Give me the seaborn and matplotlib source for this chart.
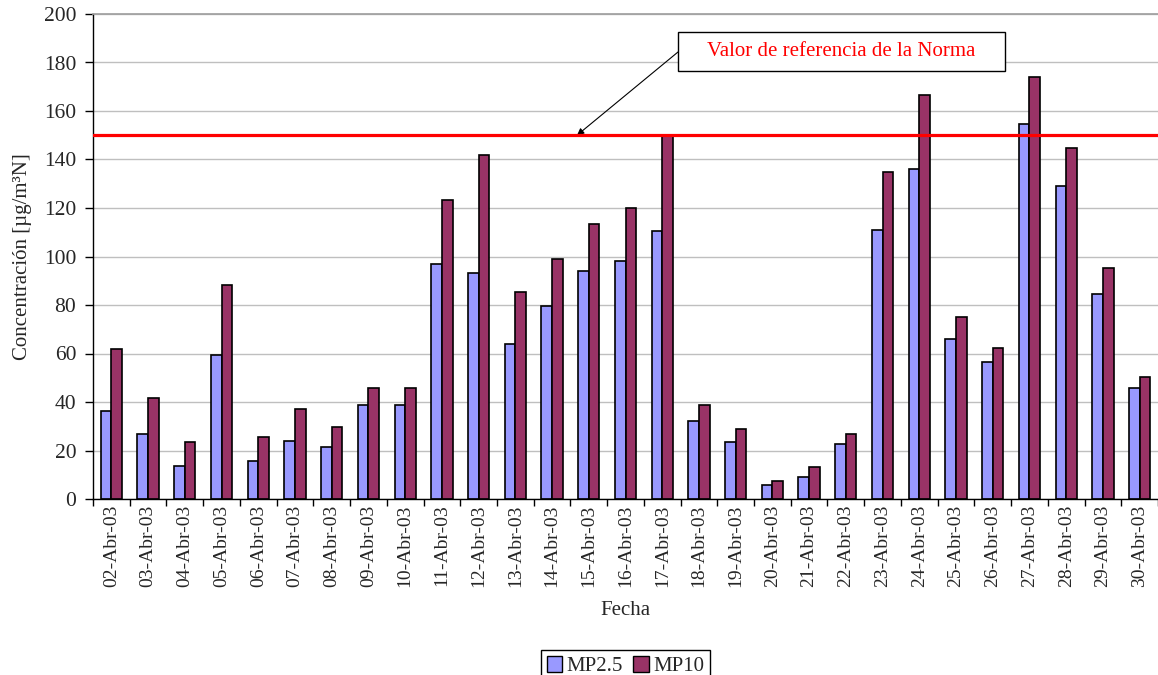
import numpy as np
import pandas as pd
import matplotlib.pyplot as plt
import seaborn as sns
from matplotlib.patches import Rectangle, Patch

# datos
fechas = ["02-Abr-03", "03-Abr-03", "04-Abr-03", "05-Abr-03", "06-Abr-03", "07-Abr-03",
          "08-Abr-03", "09-Abr-03", "10-Abr-03", "11-Abr-03", "12-Abr-03", "13-Abr-03",
          "14-Abr-03", "15-Abr-03", "16-Abr-03", "17-Abr-03", "18-Abr-03", "19-Abr-03",
          "20-Abr-03", "21-Abr-03", "22-Abr-03", "23-Abr-03", "24-Abr-03", "25-Abr-03",
          "26-Abr-03", "27-Abr-03", "28-Abr-03", "29-Abr-03", "30-Abr-03"]
mp25 = [36.2, 26.8, 13.7, 59.2, 15.8, 24.0, 21.3, 38.7, 38.6, 97.0, 93.3, 64.0, 79.7, 94.2,
        98.3, 110.5, 32.1, 23.5, 5.8, 9.1, 22.6, 111.0, 136.2, 66.0, 56.6, 154.6, 129.0,
        84.4, 45.7]
mp10 = [62.0, 41.7, 23.5, 88.1, 25.5, 37.2, 29.5, 45.8, 45.7, 123.1, 141.7, 85.2, 99.1,
        113.4, 120.1, 149.8, 38.7, 28.7, 7.3, 13.0, 27.0, 134.7, 166.8, 75.2, 62.2, 174.0,
        144.9, 95.3, 50.5]
series = ["MP2.5", "MP10"]
colores = ["#9999FF", "#993366"]
norma = 150

df = pd.DataFrame({
    "Fecha": fechas * 2,
    "valor": mp25 + mp10,
    "serie": [series[0]] * len(fechas) + [series[1]] * len(fechas),
})

sns.set_theme(style="white")
plt.rcParams["font.family"] = ["Liberation Serif", "DejaVu Serif"]

W, H = 1158, 675
fig = plt.figure(figsize=(W / 100, H / 100), dpi=100)
ax = fig.add_axes([93 / W, 1 - 499 / H, (W - 93) / W, 485 / H])

sns.barplot(data=df, x="Fecha", y="valor", hue="serie", palette=colores, width=0.58,
            saturation=1, edgecolor="black", linewidth=1.2, legend=False, ax=ax)

ax.axhline(norma, color="#FF0000", lw=2.3, zorder=4)

ax.set_xlim(-0.5, len(fechas) - 0.5)
ax.set_ylim(0, 200)
ax.set_yticks(range(0, 201, 20))
ax.yaxis.grid(True, color="#BFBFBF", lw=1)
ax.set_axisbelow(True)

ax.set_xticks(range(len(fechas)))
ax.set_xticklabels(fechas, rotation=90)
ax.set_xticks(np.arange(-0.5, len(fechas), 1), minor=True)
ax.tick_params(axis="x", which="major", length=0, pad=4, labelsize=14)
ax.tick_params(axis="x", which="minor", length=5, width=1, direction="out", color="black", bottom=True)
ax.tick_params(axis="y", length=6, width=1, direction="out", color="black", pad=6, labelsize=15.5, left=True)

for s in ["left", "bottom"]:
    ax.spines[s].set_color("black")
    ax.spines[s].set_linewidth(1)
ax.spines["top"].set_color("#A0A0A0")
ax.spines["right"].set_visible(False)

ax.set_xlabel("Fecha", fontsize=15)
ax.set_ylabel("Concentración [µg/m³N]", fontsize=15)
ax.xaxis.set_label_coords(0.5, -0.21)
ax.yaxis.set_label_coords(-0.057, 0.5)

# cuadro de la norma con flecha
fig.add_artist(Rectangle((678 / W, 1 - 71 / H), 327 / W, 39 / H, transform=fig.transFigure,
                         facecolor="white", edgecolor="black", lw=1))
fig.text(841.5 / W, 1 - 52 / H, "Valor de referencia de la Norma", color="#FF0000",
         fontsize=15, ha="center", va="center", zorder=3)
ax.annotate("", xy=(12.68, norma), xycoords="data", xytext=(678 / W, 1 - 52 / H),
            textcoords="figure fraction",
            arrowprops=dict(arrowstyle="-|>", color="black", lw=0.8, mutation_scale=10,
                            shrinkA=0, shrinkB=0))

handles = [Patch(facecolor=c, edgecolor="black", lw=1, label=s) for s, c in zip(series, colores)]
fig.legend(handles=handles, loc="upper center", bbox_to_anchor=(625.5 / W, 1 - 650 / H),
           ncol=2, fontsize=15, frameon=True, fancybox=False, edgecolor="black",
           framealpha=1, handlelength=0.75, handleheight=0.75, handletextpad=0.2,
           columnspacing=0.5, borderpad=0.3, borderaxespad=0)

fig.savefig("out.png", dpi=100)
